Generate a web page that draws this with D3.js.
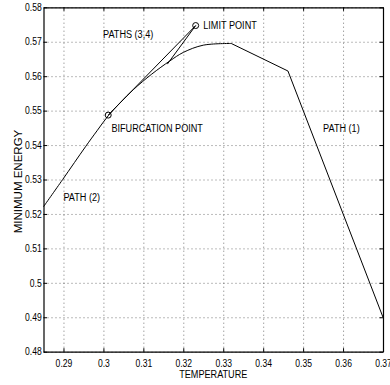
<!DOCTYPE html>
<html>
<head>
<meta charset="utf-8">
<script src="https://cdn.jsdelivr.net/npm/d3@7"></script>
<style>
  html, body { margin: 0; padding: 0; background: #fff; }
  svg text { font-family: 'Liberation Sans', Arial, Helvetica, sans-serif; fill: #000; }
</style>
</head>
<body>
<div id="chart"></div>
<script>
// main branch: path (2) up to the bifurcation point, then path (1)
const mainTemp = [0.285, 0.2898, 0.2955, 0.2985, 0.3012, 0.3042, 0.3075, 0.3121, 0.3166, 0.3200, 0.3250, 0.3320, 0.3462, 0.3700];
const mainEnergy = [0.5221, 0.5300, 0.5395, 0.5443, 0.5485, 0.5523, 0.5561, 0.5606, 0.5644, 0.5669, 0.5690, 0.5695, 0.5615, 0.4900];
const peakTemp = 0.3320; // smooth up to here, straight segments after

// paths (3,4): bifurcation point -> limit point -> back down
const sideTemp = [0.3012, 0.3231, 0.3160];
const sideEnergy = [0.5487, 0.5747, 0.5635];

// marked points
const pointNames = ['BIFURCATION', 'LIMIT'];
const pointTemp = [0.3012, 0.3231];
const pointEnergy = [0.5487, 0.5747];

// annotations (text placed in data units, like text(x, y, str))
const noteText = ['PATHS (3,4)', 'LIMIT POINT', 'BIFURCATION POINT', 'PATH (1)', 'PATH (2)'];
const noteTemp = [0.2999, 0.3250, 0.3020, 0.3550, 0.2900];
const noteEnergy = [0.5722, 0.5749, 0.5450, 0.5449, 0.5248];

const xTicks = [0.29, 0.30, 0.31, 0.32, 0.33, 0.34, 0.35, 0.36, 0.37];
const xTickLabels = ['0.29', '0.3', '0.31', '0.32', '0.33', '0.34', '0.35', '0.36', '0.37'];
const yTicks = [0.48, 0.49, 0.50, 0.51, 0.52, 0.53, 0.54, 0.55, 0.56, 0.57, 0.58];
const yTickLabels = ['0.48', '0.49', '0.5', '0.51', '0.52', '0.53', '0.54', '0.55', '0.56', '0.57', '0.58'];

const width = 390, height = 385;
const plotLeft = 43.5, plotRight = 383, plotTop = 7.3, plotBottom = 351.7;
const narrow = 0.83; // the original font is a condensed helvetica

const svg = d3.select('#chart').append('svg')
  .attr('width', width)
  .attr('height', height);

const x = d3.scaleLinear().domain([0.285, 0.37]).range([plotLeft, plotRight]);
const y = d3.scaleLinear().domain([0.48, 0.58]).range([plotBottom, plotTop]);

// dotted grid
const grid = svg.append('g');
grid.append('g')
  .attr('transform', `translate(0,${plotBottom})`)
  .call(d3.axisBottom(x).tickValues(xTicks).tickSize(-(plotBottom - plotTop)).tickFormat(''));
grid.append('g')
  .attr('transform', `translate(${plotLeft},0)`)
  .call(d3.axisLeft(y).tickValues(yTicks).tickSize(-(plotRight - plotLeft)).tickFormat(''));
grid.selectAll('.domain').remove();
grid.selectAll('.tick line')
  .attr('stroke', '#555')
  .attr('stroke-width', 0.8)
  .attr('stroke-dasharray', '1,3');

// axes box, MATLAB style with inward ticks
const tick = 3.5;
const xb = svg.append('g')
  .attr('transform', `translate(0,${plotBottom})`)
  .call(d3.axisBottom(x).tickValues(xTicks).tickSizeInner(-tick).tickSizeOuter(0)
    .tickPadding(8).tickFormat((d, i) => xTickLabels[i]));
const xt = svg.append('g')
  .attr('transform', `translate(0,${plotTop})`)
  .call(d3.axisTop(x).tickValues(xTicks).tickSizeInner(-tick).tickSizeOuter(0).tickFormat(''));
const yl = svg.append('g')
  .attr('transform', `translate(${plotLeft},0)`)
  .call(d3.axisLeft(y).tickValues(yTicks).tickSizeInner(-tick).tickSizeOuter(0)
    .tickPadding(2).tickFormat((d, i) => yTickLabels[i]));
const yr = svg.append('g')
  .attr('transform', `translate(${plotRight},0)`)
  .call(d3.axisRight(y).tickValues(yTicks).tickSizeInner(-tick).tickSizeOuter(0).tickFormat(''));

[xb, xt, yl, yr].forEach(g => {
  g.select('.domain').attr('stroke', '#000').attr('stroke-width', 1.2);
  g.selectAll('.tick line').attr('stroke', '#000');
  g.selectAll('.tick text')
    .style('font-size', '10px')
    .attr('fill', '#000')
    .attr('transform', 'scale(0.86,1)');
});

// axis titles
svg.append('text')
  .attr('transform', `translate(${(plotLeft + plotRight) / 2},374) scale(${narrow},1)`)
  .attr('text-anchor', 'middle')
  .attr('dominant-baseline', 'central')
  .style('font-size', '11px')
  .text('TEMPERATURE');

svg.append('text')
  .attr('transform', `translate(17.5,${(plotTop + plotBottom) / 2 + 2}) rotate(-90)`)
  .attr('text-anchor', 'middle')
  .attr('dominant-baseline', 'central')
  .style('font-size', '11.5px')
  .text('MINIMUM ENERGY');

// curves
const smoothLine = d3.line()
  .x(d => x(d[0]))
  .y(d => y(d[1]))
  .curve(d3.curveCatmullRom.alpha(0.5));
const line = d3.line()
  .x(d => x(d[0]))
  .y(d => y(d[1]));

const mainPts = d3.zip(mainTemp, mainEnergy);
const plot = svg.append('g');

plot.append('path')
  .datum(mainPts.filter(d => d[0] <= peakTemp))
  .attr('fill', 'none')
  .attr('stroke', '#000')
  .attr('stroke-width', 1)
  .attr('d', smoothLine);

plot.append('path')
  .datum(mainPts.filter(d => d[0] >= peakTemp))
  .attr('fill', 'none')
  .attr('stroke', '#000')
  .attr('stroke-width', 1)
  .attr('d', line);

plot.append('path')
  .datum(d3.zip(sideTemp, sideEnergy))
  .attr('fill', 'none')
  .attr('stroke', '#000')
  .attr('stroke-width', 1)
  .attr('d', line);

plot.selectAll('circle')
  .data(d3.zip(pointTemp, pointEnergy))
  .enter()
  .append('circle')
  .attr('cx', d => x(d[0]))
  .attr('cy', d => y(d[1]))
  .attr('r', 3)
  .attr('fill', 'none')
  .attr('stroke', '#000')
  .attr('stroke-width', 1);

plot.selectAll('text.note')
  .data(noteText)
  .enter()
  .append('text')
  .attr('class', 'note')
  .attr('transform', (d, i) => `translate(${x(noteTemp[i])},${y(noteEnergy[i])}) scale(${narrow},1)`)
  .attr('dominant-baseline', 'central')
  .style('font-size', '11px')
  .text(d => d);
</script>
</body>
</html>
